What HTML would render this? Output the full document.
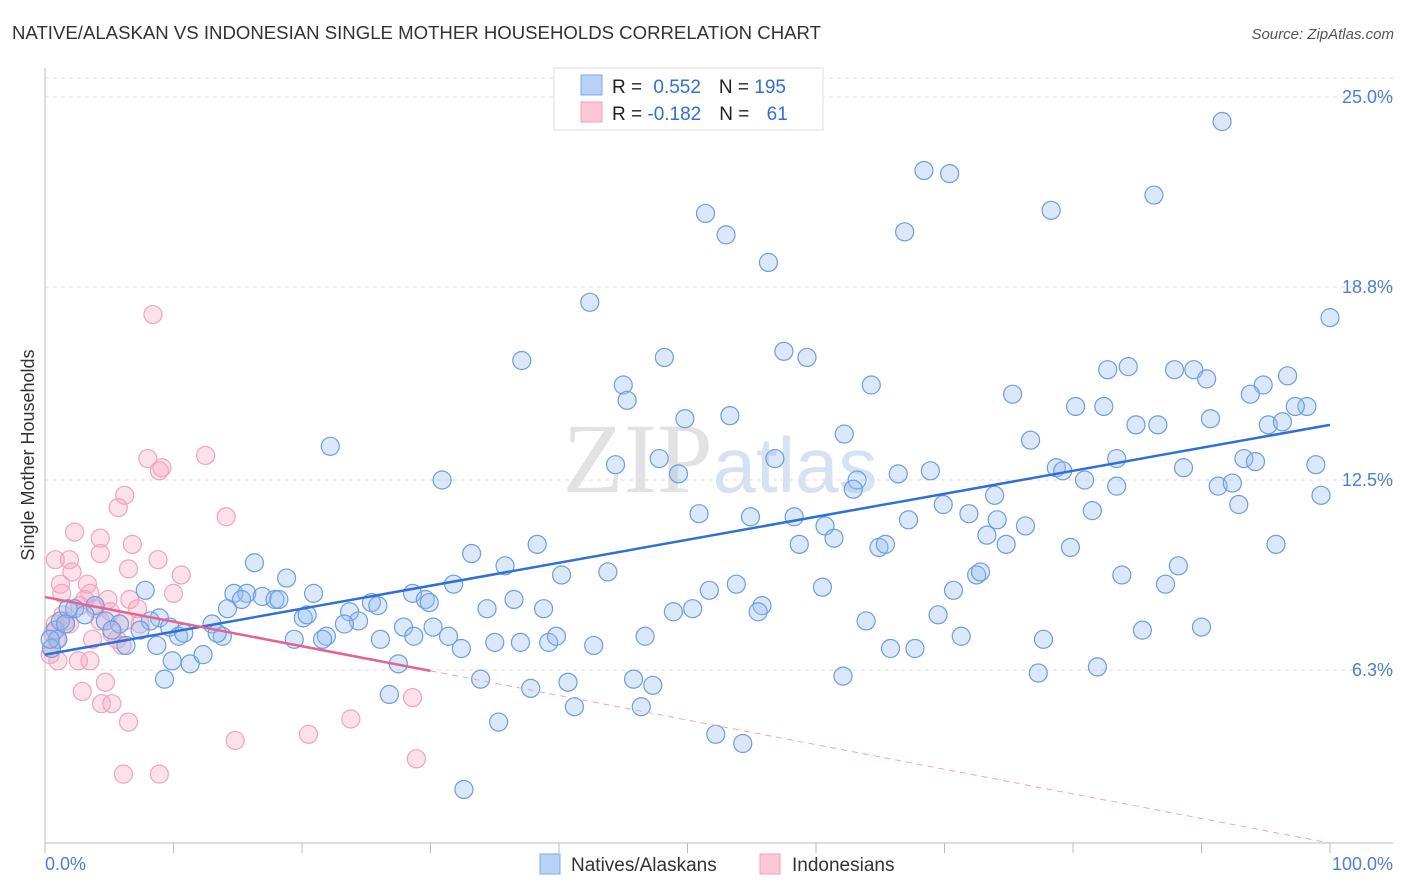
<!DOCTYPE html>
<html><head><meta charset="utf-8"><style>
body{margin:0;background:#fff;font-family:"Liberation Sans",sans-serif;}
svg{display:block}
</style></head><body>
<svg id="chart" width="1406" height="892">
<text x="12" y="39" font-size="18.6" fill="#333">NATIVE/ALASKAN VS INDONESIAN SINGLE MOTHER HOUSEHOLDS CORRELATION CHART</text>
<text x="1394" y="39" font-size="15" fill="#555" font-style="italic" text-anchor="end">Source: ZipAtlas.com</text>
<text x="720" y="492" font-size="100" fill="#e2e2e2" text-anchor="middle" font-family="Liberation Serif">ZIP<tspan font-family="Liberation Sans" font-size="78" fill="#d6e2f2">atlas</tspan></text>
<g id="grid"></g>
<g id="pts"></g>
<g id="trend"></g>
<text transform="translate(34,455) rotate(-90)" font-size="18" fill="#333" text-anchor="middle">Single Mother Households</text>
<g>
<rect x="554" y="68" width="269" height="62" fill="#fff" stroke="#ddd"/>
<rect x="581" y="75" width="21" height="20" fill="#b8d2f7" stroke="#7ea8e6"/>
<rect x="581" y="102" width="21" height="20" fill="#fcc8d6" stroke="#f0a0bb"/>
<text x="612" y="93" font-size="19" fill="#222">R = <tspan fill="#2f6fd6" dx="6">0.552</tspan><tspan dx="18" fill="#222">N = </tspan><tspan fill="#2f6fd6">195</tspan></text>
<text x="612" y="120" font-size="19" fill="#222">R = <tspan fill="#2f6fd6">-0.182</tspan><tspan dx="18" fill="#222">N = </tspan><tspan fill="#2f6fd6" dx="12">61</tspan></text>
</g>
<g>
<rect x="540" y="854" width="20" height="20" fill="#b8d2f7" stroke="#7ea8e6"/>
<text x="571" y="871" font-size="19" fill="#333">Natives/Alaskans</text>
<rect x="760" y="854" width="20" height="20" fill="#fcc8d6" stroke="#f0a0bb"/>
<text x="792" y="871" font-size="19" fill="#333">Indonesians</text>
</g>
</svg>
<script>
const yTicks=[6.3,12.5,18.8,25.0];
const yTickLabels=["6.3%","12.5%","18.8%","25.0%"];
const xTicks=[0,10,20,30,40,50,60,70,80,90,100];
const xEndLabels=["0.0%","100.0%"];
const blueX=[91.6,68.4,70.4,86.3,51.4,78.3,53.0,66.9,56.3,42.4,100,57.5,59.3,37.1,48.2,45.0,45.3,64.3,75.3,82.7,84.3,87.9,89.4,90.4,96.7,94.8,93.8,80.2,82.4,98.2,97.3,90.7,49.8,53.3,84.9,86.6,95.2,96.3,62.2,76.7,22.2,83.4,93.3,94.2,47.8,56.8,44.4,49.3,68.9,78.7,79.2,88.6,98.9,30.9,63.2,62.9,66.4,80.9,83.4,91.3,92.4,73.9,99.3,92.9,69.9,81.5,50.9,54.9,58.3,71.9,67.2,74.1,60.7,76.3,73.3,61.4,58.7,64.9,65.4,74.8,79.8,95.8,38.3,33.2,16.3,35.8,40.2,43.8,72.5,72.8,83.8,88.2,87.2,7.8,18.8,53.8,51.7,60.5,70.7,14.7,15.7,16.9,17.9,18.2,20.9,28.6,31.8,29.6,29.9,36.5,14.2,15.3,25.4,25.9,23.7,34.4,38.8,55.8,55.5,48.9,50.4,69.5,20.1,20.4,24.4,8.9,8.2,9.7,13.0,27.9,30.2,23.3,63.9,85.4,90.0,21.9,21.6,19.4,26.1,28.7,31.4,35.0,37.0,39.2,39.8,42.7,46.7,71.3,77.7,10.4,10.8,13.8,13.4,8.7,6.3,32.4,65.8,67.7,9.9,11.3,12.3,27.5,81.9,77.3,62.1,9.3,33.9,40.7,45.8,47.3,37.8,26.8,46.4,41.2,35.3,52.2,54.3,32.6,0.8,1.0,1.2,2.3,3.9,4.7,5.8,7.4,3.1,1.8,5.2,0.5,0.4,1.6];
const blueY=[24.2,22.6,22.5,21.8,21.2,21.3,20.5,20.6,19.6,18.3,17.8,16.7,16.5,16.4,16.5,15.6,15.1,15.6,15.3,16.1,16.2,16.1,16.1,15.8,15.9,15.6,15.3,14.9,14.9,14.9,14.9,14.5,14.5,14.6,14.3,14.3,14.3,14.4,14.0,13.8,13.6,13.2,13.2,13.1,13.2,13.2,13.0,12.7,12.8,12.9,12.8,12.9,13.0,12.5,12.5,12.2,12.7,12.5,12.3,12.3,12.4,12.0,12.0,11.7,11.7,11.5,11.4,11.3,11.3,11.4,11.2,11.2,11.0,11.0,10.7,10.6,10.4,10.3,10.4,10.4,10.3,10.4,10.4,10.1,9.8,9.7,9.4,9.5,9.4,9.5,9.4,9.7,9.1,8.9,9.3,9.1,8.9,9.0,8.9,8.8,8.8,8.7,8.6,8.6,8.8,8.8,9.1,8.6,8.5,8.6,8.3,8.6,8.5,8.4,8.2,8.3,8.3,8.4,8.2,8.2,8.3,8.1,8.0,8.1,7.9,8.0,7.9,7.7,7.8,7.7,7.7,7.8,7.9,7.6,7.7,7.4,7.3,7.3,7.3,7.4,7.4,7.2,7.2,7.2,7.4,7.1,7.4,7.4,7.3,7.4,7.5,7.4,7.5,7.1,7.1,7.0,7.0,7.0,6.6,6.5,6.8,6.5,6.4,6.2,6.1,6.0,6.0,5.9,6.0,5.8,5.7,5.5,5.1,5.1,4.6,4.2,3.9,2.4,7.6,7.3,7.9,8.3,8.4,7.9,7.8,7.6,8.1,8.3,7.6,7.0,7.3,7.8];
const pinkX=[8.4,12.5,8.0,9.1,8.9,14.1,6.2,5.7,2.3,4.3,6.8,0.8,1.9,4.3,8.8,6.5,2.1,10.6,1.2,3.3,10.0,1.3,3.5,6.6,7.2,2.7,5.1,1.6,0.8,4.3,5.2,5.6,6.0,3.7,0.9,0.5,1.0,2.6,3.5,4.7,2.9,4.4,5.2,6.5,23.8,14.8,20.5,6.1,8.9,28.9,28.6,0.4,0.6,1.4,3.9,1.9,3.1,4.9,6.2,7.4];
const pinkY=[17.9,13.3,13.2,12.9,12.8,11.3,12.0,11.6,10.8,10.6,10.4,9.9,9.9,10.1,9.9,9.6,9.5,9.4,9.1,9.1,8.8,8.8,8.8,8.6,8.3,8.4,8.2,7.9,7.8,7.9,7.5,7.3,7.1,7.3,7.3,7.0,6.6,6.6,6.6,5.9,5.6,5.2,5.2,4.6,4.7,4.0,4.2,2.9,2.9,3.4,5.4,6.8,7.5,8.1,8.3,7.8,8.6,8.6,7.9,7.8];
const blueTrend=[6.8,14.3];
const pinkTrend=[8.68,0.65];
const pinkSolidEnd=30;

const NS="http://www.w3.org/2000/svg";
const X=v=>45+v*12.85;
const Y=v=>863-v*30.64;
function mk(tag,attrs,parent){const e=document.createElementNS(NS,tag);for(const k in attrs)e.setAttribute(k,attrs[k]);parent.appendChild(e);return e;}
const grid=document.getElementById('grid'),pts=document.getElementById('pts'),tr=document.getElementById('trend');
let g=mk('line',{x1:45,x2:1393,y1:78,y2:78,stroke:'#ddd','stroke-dasharray':'4,4'},grid);


yTicks.forEach((t,i)=>{
  const l=mk('line',{x1:45,x2:1393,y1:Y(t),y2:Y(t),stroke:'#ddd','stroke-dasharray':'4,4'},grid);
  
  
  const tx=mk('text',{x:1393,y:Y(t)+6,'font-size':18,fill:'#4a7fd4','text-anchor':'end'},grid);
  tx.textContent=yTickLabels[i];
  
  
});
let a=mk('line',{x1:45,x2:45,y1:68,y2:843,stroke:'#bbb'},grid);


a=mk('line',{x1:45,x2:1393,y1:843,y2:843,stroke:'#bbb'},grid);


xTicks.forEach(t=>{
  const l=mk('line',{x1:X(t),x2:X(t),y1:843,y2:853,stroke:'#bbb'},grid);
  
  
});
let xl=mk('text',{x:45,y:870,'font-size':18,fill:'#4a7fd4'},grid);xl.textContent=xEndLabels[0];


xl=mk('text',{x:1393,y:870,'font-size':18,fill:'#4a7fd4','text-anchor':'end'},grid);xl.textContent=xEndLabels[1];


pinkX.forEach((v,i)=>{
  const c=mk('circle',{cx:X(v),cy:Y(pinkY[i]),r:9,fill:'rgba(246,170,196,0.35)',stroke:'#f0a3bd','stroke-width':1.2},pts);
  
  
});
blueX.forEach((v,i)=>{
  const c=mk('circle',{cx:X(v),cy:Y(blueY[i]),r:9,fill:'rgba(150,188,240,0.35)',stroke:'#6c9de2','stroke-width':1.2},pts);
  
  
});
let t=mk('line',{x1:X(0),y1:Y(blueTrend[0]),x2:X(100),y2:Y(blueTrend[1]),stroke:'#2f6fd6','stroke-width':2.5},tr);


const py=x=>pinkTrend[0]+(pinkTrend[1]-pinkTrend[0])*x/100;
t=mk('line',{x1:X(0),y1:Y(py(0)),x2:X(pinkSolidEnd),y2:Y(py(pinkSolidEnd)),stroke:'#e8628f','stroke-width':2.5},tr);


t=mk('line',{x1:X(pinkSolidEnd),y1:Y(py(pinkSolidEnd)),x2:X(100),y2:Y(py(100)),stroke:'#f0a3bd','stroke-width':1,'stroke-dasharray':'6,5'},tr);


</script>
</body></html>
